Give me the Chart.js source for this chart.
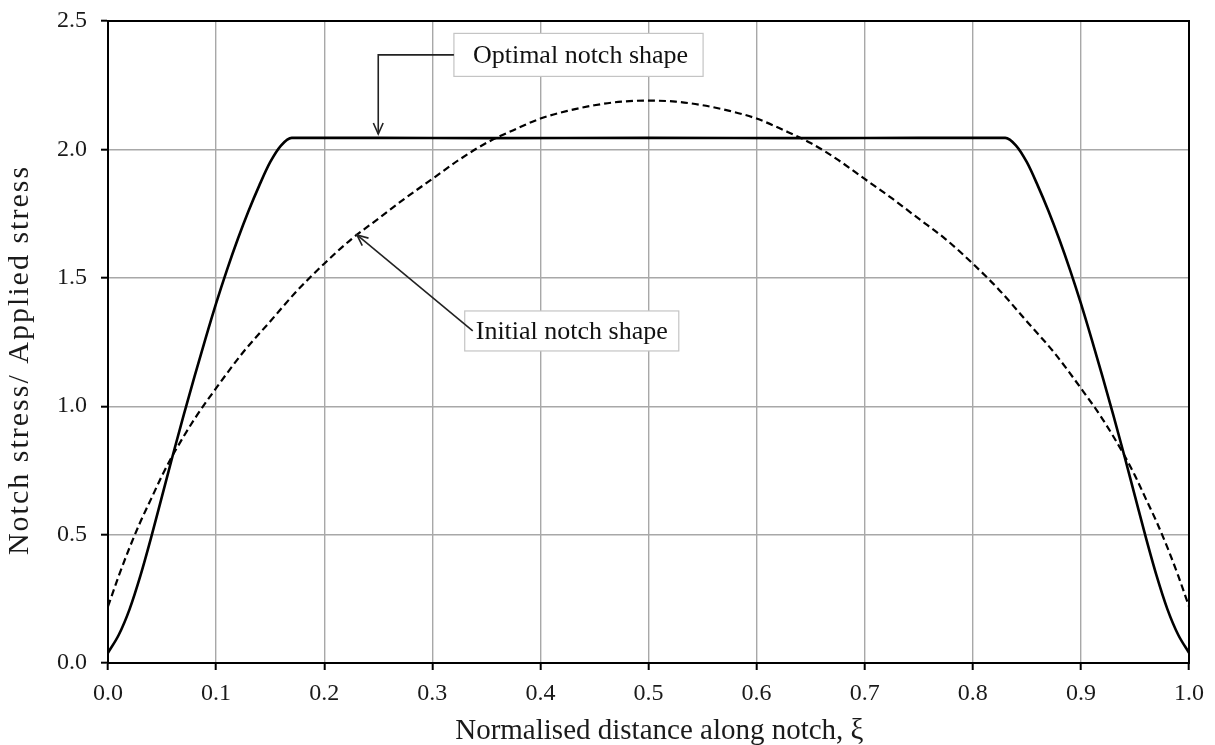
<!DOCTYPE html>
<html>
<head>
<meta charset="utf-8">
<script src="https://cdn.jsdelivr.net/npm/chart.js@4.4.1/dist/chart.umd.min.js"></script>
<style>
  html, body { margin: 0; padding: 0; background: #fff; }
  canvas { display: block; }
</style>
</head>
<body>
<canvas id="notchChart" width="1215" height="745"></canvas>
<script>
"use strict";

// normalised distance along notch (xi) and stress ratio
const optimalXi = [0, 0.01, 0.02, 0.03, 0.04, 0.05, 0.06, 0.07, 0.08, 0.09, 0.1, 0.11, 0.12, 0.13, 0.14, 0.15, 0.16, 0.17,
  0.25, 0.35, 0.5, 0.65, 0.75, 0.83, 0.84, 0.85, 0.86, 0.87, 0.88, 0.89, 0.9, 0.91, 0.92, 0.93, 0.94, 0.95, 0.96, 0.97, 0.98, 0.99, 1];
const optimalStress = [0.04, 0.11, 0.21, 0.34, 0.49, 0.65, 0.81, 0.965, 1.115, 1.26, 1.4, 1.53, 1.65, 1.76, 1.86, 1.95, 2.015, 2.045,
  2.045, 2.044, 2.045, 2.044, 2.045, 2.045, 2.015, 1.95, 1.86, 1.76, 1.65, 1.53, 1.4, 1.26, 1.115, 0.965, 0.81, 0.65, 0.49, 0.34, 0.21, 0.11, 0.04];

const initialXi = [0, 0.01, 0.02, 0.03, 0.04, 0.05, 0.06, 0.08, 0.1, 0.125, 0.15, 0.175, 0.2, 0.225, 0.25, 0.275, 0.3, 0.325,
  0.35, 0.375, 0.4, 0.425, 0.45, 0.475, 0.5, 0.525, 0.55, 0.575, 0.6, 0.625, 0.65, 0.675, 0.7, 0.725, 0.75, 0.775, 0.8, 0.825,
  0.85, 0.875, 0.9, 0.92, 0.94, 0.95, 0.96, 0.97, 0.98, 0.99, 1];
const initialStress = [0.22, 0.34, 0.45, 0.55, 0.64, 0.73, 0.81, 0.95, 1.07, 1.21, 1.33, 1.45, 1.555, 1.65, 1.73, 1.81, 1.885, 1.96,
  2.025, 2.075, 2.12, 2.15, 2.172, 2.186, 2.19, 2.186, 2.172, 2.15, 2.12, 2.075, 2.025, 1.96, 1.885, 1.81, 1.73, 1.65, 1.555, 1.45,
  1.33, 1.21, 1.07, 0.95, 0.81, 0.73, 0.64, 0.55, 0.45, 0.34, 0.22];

const xTicks = [0, 0.1, 0.2, 0.3, 0.4, 0.5, 0.6, 0.7, 0.8, 0.9, 1];
const yTicks = [0, 0.5, 1, 1.5, 2, 2.5];

const FONT = "'Liberation Serif', 'DejaVu Serif', serif";
const Y_TITLE = "Notch stress/ Applied stress";

const toPoints = function (xs, ys) {
  return xs.map(function (x, i) { return { x: x, y: ys[i] }; });
};

// open V arrow head, angle = direction the line travels into the tip
const arrowHead = function (ctx, x, y, angle) {
  const len = 12, spread = 0.42;
  ctx.beginPath();
  ctx.moveTo(x - len * Math.cos(angle - spread), y - len * Math.sin(angle - spread));
  ctx.lineTo(x, y);
  ctx.lineTo(x - len * Math.cos(angle + spread), y - len * Math.sin(angle + spread));
  ctx.stroke();
};

const framePlugin = {
  id: "frame",
  afterDatasetsDraw: function (chart) {
    const a = chart.chartArea;
    const ctx = chart.ctx;
    ctx.save();
    ctx.strokeStyle = "#000";
    ctx.lineWidth = 2;
    ctx.strokeRect(a.left, a.top, a.right - a.left, a.bottom - a.top);
    ctx.restore();
  }
};

// y title drawn by hand: the original uses a wide, slightly spaced face
const yTitlePlugin = {
  id: "yTitle",
  afterDraw: function (chart) {
    const ctx = chart.ctx;
    const a = chart.chartArea;
    ctx.save();
    ctx.translate(20, (a.top + a.bottom) / 2 + 18);
    ctx.rotate(-Math.PI / 2);
    ctx.font = "30px " + FONT;
    ctx.letterSpacing = "2px";
    ctx.fillStyle = "#1a1a1a";
    ctx.textAlign = "center";
    ctx.textBaseline = "middle";
    ctx.fillText(Y_TITLE, 0, 0);
    ctx.restore();
  }
};

const calloutPlugin = {
  id: "callouts",
  afterDraw: function (chart) {
    const xs = chart.scales.x;
    const ys = chart.scales.y;
    const ctx = chart.ctx;
    const callouts = [
      { text: "Optimal notch shape", at: [0.32, 2.368], tip: [0.25, 2.06], padL: 19, padR: 15, h: 43, elbow: true },
      { text: "Initial notch shape", at: [0.33, 1.293], tip: [0.2303, 1.667], padL: 11, padR: 11, h: 40, elbow: false }
    ];
    ctx.save();
    ctx.font = "26px " + FONT;
    callouts.forEach(function (c) {
      const left = xs.getPixelForValue(c.at[0]);
      const cy = ys.getPixelForValue(c.at[1]);
      const tx = xs.getPixelForValue(c.tip[0]);
      const ty = ys.getPixelForValue(c.tip[1]);
      const w = ctx.measureText(c.text).width + c.padL + c.padR;

      ctx.fillStyle = "#fff";
      ctx.fillRect(left, cy - c.h / 2, w, c.h);
      ctx.strokeStyle = "#c4c4c4";
      ctx.lineWidth = 1.2;
      ctx.strokeRect(left, cy - c.h / 2, w, c.h);

      ctx.strokeStyle = "#222";
      ctx.lineWidth = 1.6;
      ctx.beginPath();
      if (c.elbow) {
        ctx.moveTo(left, cy);
        ctx.lineTo(tx, cy);
        ctx.lineTo(tx, ty);
        ctx.stroke();
        arrowHead(ctx, tx, ty, Math.PI / 2);
      } else {
        const sx = left + c.padL - 3;
        ctx.moveTo(sx, cy);
        ctx.lineTo(tx, ty);
        ctx.stroke();
        arrowHead(ctx, tx, ty, Math.atan2(ty - cy, tx - sx));
      }

      ctx.fillStyle = "#111";
      ctx.textBaseline = "middle";
      ctx.textAlign = "left";
      ctx.fillText(c.text, left + c.padL, cy + 1);
    });
    ctx.restore();
  }
};

const ctx = document.getElementById("notchChart").getContext("2d");

new Chart(ctx, {
  type: "line",
  data: {
    datasets: [
      {
        label: "Optimal notch shape",
        data: toPoints(optimalXi, optimalStress),
        borderColor: "#000",
        borderWidth: 2.6,
        pointRadius: 0,
        cubicInterpolationMode: "monotone",
        fill: false
      },
      {
        label: "Initial notch shape",
        data: toPoints(initialXi, initialStress),
        borderColor: "#000",
        borderWidth: 2.2,
        borderDash: [7, 4],
        pointRadius: 0,
        cubicInterpolationMode: "monotone",
        fill: false
      }
    ]
  },
  options: {
    responsive: false,
    animation: false,
    devicePixelRatio: 1,
    layout: { padding: { top: 21, right: 26, left: 0, bottom: 0 } },
    plugins: {
      legend: { display: false },
      tooltip: { enabled: false }
    },
    scales: {
      x: {
        type: "linear",
        min: 0,
        max: 1,
        afterFit: function (scale) { scale.height = 82; },
        afterBuildTicks: function (scale) {
          scale.ticks = xTicks.map(function (v) { return { value: v }; });
        },
        ticks: {
          color: "#1a1a1a",
          padding: 9,
          maxRotation: 0,
          font: { family: FONT, size: 24 },
          callback: function (v) { return v.toFixed(1); }
        },
        grid: { color: "#a8a8a8", lineWidth: 1.4, tickColor: "#000", tickLength: 7, tickWidth: 2 },
        border: { color: "#000", width: 2 },
        title: {
          display: true,
          text: "   Normalised distance along notch, ξ",
          color: "#1a1a1a",
          font: { family: FONT, size: 29 },
          padding: { top: 0, bottom: -4 }
        }
      },
      y: {
        type: "linear",
        min: 0,
        max: 2.5,
        afterFit: function (scale) {
          scale.width = 108;
          scale.paddingTop = 0;
          scale.paddingBottom = 0;
        },
        afterBuildTicks: function (scale) {
          scale.ticks = yTicks.map(function (v) { return { value: v }; });
        },
        ticks: {
          color: "#1a1a1a",
          padding: 14,
          font: { family: FONT, size: 24 },
          callback: function (v) { return v.toFixed(1); }
        },
        grid: { color: "#a8a8a8", lineWidth: 1.4, tickColor: "#000", tickLength: 7, tickWidth: 2 },
        border: { color: "#000", width: 2 },
        title: { display: false, text: Y_TITLE }
      }
    }
  },
  plugins: [framePlugin, yTitlePlugin, calloutPlugin]
});
</script>
</body>
</html>
